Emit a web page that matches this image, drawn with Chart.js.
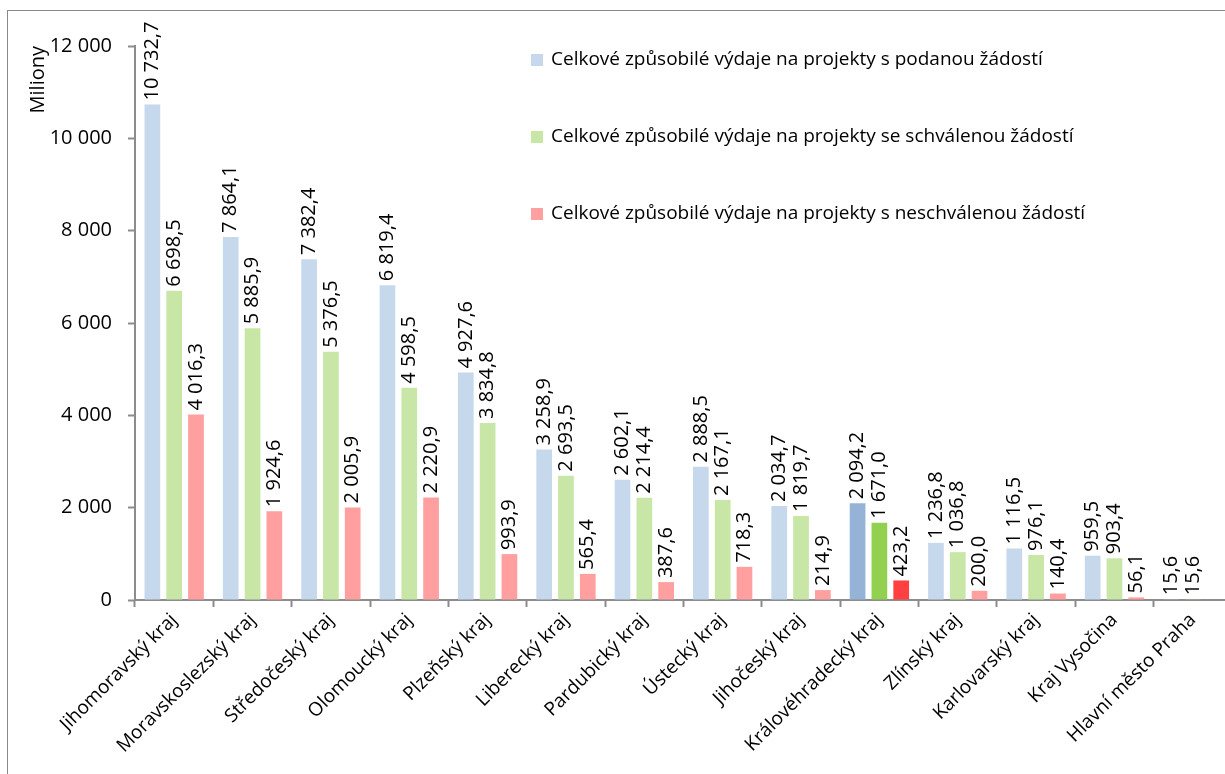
<!DOCTYPE html>
<html lang="cs">
<head>
<meta charset="utf-8">
<title>Způsobilé výdaje podle krajů</title>
<script src="https://cdn.jsdelivr.net/npm/chart.js@4.4.1/dist/chart.umd.min.js"></script>
<style>
  html, body { margin: 0; padding: 0; background: #fff; overflow: hidden; }
  #ramecek {
    position: absolute; left: 7px; top: 10px;
    width: 1260px; height: 780px;
    border: 1px solid #8a8a8a;
  }
  #graf { display: block; }
</style>
</head>
<body>
<div id="ramecek">
  <canvas id="graf" width="1260" height="780"></canvas>
</div>
<script>
const kraje = [
  'Jihomoravský kraj', 'Moravskoslezský kraj', 'Středočeský kraj', 'Olomoucký kraj',
  'Plzeňský kraj', 'Liberecký kraj', 'Pardubický kraj', 'Ústecký kraj',
  'Jihočeský kraj', 'Královéhradecký kraj', 'Zlínský kraj', 'Karlovarský kraj',
  'Kraj Vysočina', 'Hlavní město Praha'
];

const podane = [10732.7, 7864.1, 7382.4, 6819.4, 4927.6, 3258.9, 2602.1, 2888.5, 2034.7, 2094.2, 1236.8, 1116.5, 959.5, 15.6];
const schvalene = [6698.5, 5885.9, 5376.5, 4598.5, 3834.8, 2693.5, 2214.4, 2167.1, 1819.7, 1671.0, 1036.8, 976.1, 903.4, 15.6];
const neschvalene = [4016.3, 1924.6, 2005.9, 2220.9, 993.9, 565.4, 387.6, 718.3, 214.9, 423.2, 200.0, 140.4, 56.1, 0];

const nazvyRad = [
  'Celkové způsobilé výdaje na projekty s podanou žádostí',
  'Celkové způsobilé výdaje na projekty se schválenou žádostí',
  'Celkové způsobilé výdaje na projekty s neschválenou žádostí'
];

const yTicks = [0, 2000, 4000, 6000, 8000, 10000, 12000];

// zvyrazneny kraj ma tmavsi barvy
const zvyraznenyKraj = 'Královéhradecký kraj';
const barvy = ['#c6d8ec', '#c8e6a6', '#ff9f9f'];
const barvyZvyraznene = ['#95b3d7', '#92d050', '#ff4040'];

const PISMO = '"Open Sans", Lato, sans-serif';
const VELIKOST = 19;      // texty
const VELIKOST_CISLA = 20; // cisla (osa y, popisky)

function formatCislo(v, des) {
  const casti = v.toFixed(des).split('.');
  const cela = casti[0].replace(/\B(?=(\d{3})+(?!\d))/g, ' ');
  return casti[1] ? cela + ',' + casti[1] : cela;
}

function barvyBaru(i) {
  return kraje.map(k => k === zvyraznenyKraj ? barvyZvyraznene[i] : barvy[i]);
}

// popisky hodnot nad sloupci (otocene o 90 stupnu)
const popiskyPlugin = {
  id: 'popisky',
  afterDatasetsDraw(chart) {
    const ctx = chart.ctx;
    ctx.save();
    ctx.font = `${VELIKOST_CISLA}px ${PISMO}`;
    ctx.fillStyle = '#000';
    ctx.textAlign = 'left';
    ctx.textBaseline = 'middle';
    chart.data.datasets.forEach((ds, i) => {
      const meta = chart.getDatasetMeta(i);
      meta.data.forEach((bar, j) => {
        const v = ds.data[j];
        if (!v) return;
        ctx.save();
        ctx.translate(bar.x, bar.y - 4);
        ctx.rotate(-Math.PI / 2);
        ctx.fillText(formatCislo(v, 1), 0, 0);
        ctx.restore();
      });
    });
    ctx.restore();
  }
};

// legenda v prave horni casti grafu
const legendaPlugin = {
  id: 'legenda',
  afterDraw(chart) {
    const ctx = chart.ctx;
    const x = chart.chartArea.left + 396;
    const y0 = chart.chartArea.top + 14;
    const krok = 77;
    ctx.save();
    ctx.font = `${VELIKOST}px ${PISMO}`;
    ctx.textBaseline = 'middle';
    ctx.textAlign = 'left';
    chart.data.datasets.forEach((ds, i) => {
      const y = y0 + i * krok;
      ctx.fillStyle = barvy[i];
      ctx.fillRect(x, y - 6, 12, 12);
      ctx.fillStyle = '#000';
      ctx.fillText(ds.label, x + 20, y);
    });
    ctx.restore();
  }
};

const datasety = [podane, schvalene, neschvalene].map((data, i) => ({
  label: nazvyRad[i],
  data: data,
  backgroundColor: barvyBaru(i),
  borderWidth: 0,
  categoryPercentage: 0.835,
  barPercentage: 0.72
}));

const ctx = document.getElementById('graf').getContext('2d');
new Chart(ctx, {
  type: 'bar',
  data: { labels: kraje, datasets: datasety },
  plugins: [popiskyPlugin, legendaPlugin],
  options: {
    responsive: false,
    animation: false,
    devicePixelRatio: 1,
    layout: { padding: { top: 35, right: 36, bottom: 0, left: 0 } },
    plugins: {
      legend: { display: false },
      tooltip: { enabled: false }
    },
    scales: {
      x: {
        afterFit: (scale) => { scale.height = 191; },
        grid: {
          display: true,
          drawOnChartArea: false,
          offset: true,
          tickLength: 7,
          tickWidth: 2,
          tickColor: '#8c8c8c'
        },
        border: { color: '#8c8c8c', width: 2 },
        ticks: {
          autoSkip: false,
          maxRotation: 45,
          minRotation: 45,
          padding: 2,
          color: '#000',
          font: { family: PISMO, size: VELIKOST }
        }
      },
      y: {
        min: 0,
        max: 12000,
        afterFit: (scale) => { scale.width = 127; },
        afterBuildTicks: (scale) => { scale.ticks = yTicks.map(v => ({ value: v })); },
        grid: {
          display: true,
          drawOnChartArea: false,
          tickLength: 7,
          tickWidth: 2,
          tickColor: '#8c8c8c'
        },
        border: { color: '#8c8c8c', width: 2 },
        ticks: {
          padding: 16,
          color: '#000',
          font: { family: PISMO, size: VELIKOST_CISLA },
          callback: (v) => formatCislo(v, 0)
        },
        title: {
          display: true,
          text: 'Miliony',
          align: 'end',
          color: '#000',
          padding: { top: 18, bottom: 0 },
          font: { family: PISMO, size: VELIKOST_CISLA }
        }
      }
    }
  }
});
</script>
</body>
</html>
